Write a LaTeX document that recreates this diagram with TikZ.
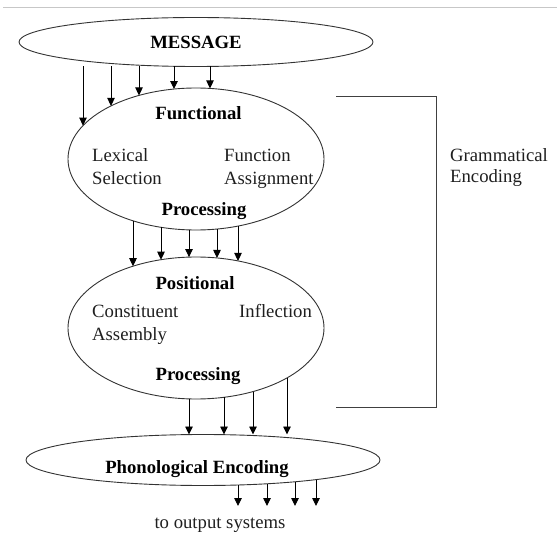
\documentclass[tikz,border=0pt]{standalone}
\usepackage{fontspec}
\setmainfont{Liberation Serif}
\usetikzlibrary{shapes.geometric,arrows.meta}
\begin{document}
\begin{tikzpicture}[x=1pt,y=-1pt,
  oval/.style={ellipse,draw=black!80,line width=0.9pt,inner sep=0pt},
  arr/.style={draw=black,line width=0.9pt,-{Triangle[length=8pt,width=7.5pt]}},
  lbl/.style={inner sep=0pt,text=black!88,font=\fontsize{18.7}{22}\selectfont},
  blbl/.style={inner sep=0pt,text=black,font=\fontsize{18.7}{22}\selectfont\bfseries},
  frame/.style={draw=black!75,line width=0.9pt}]
\useasboundingbox (0,0) rectangle (557,545);
\draw[black!22,line width=1pt] (3,8) -- (557,8);

% ellipses
\node[oval,minimum width=354pt,minimum height=49pt] (msg) at (196,42) {};
\node[oval,minimum width=256pt,minimum height=142pt] (fun) at (196,159) {};
\node[oval,minimum width=256pt,minimum height=142pt] (pos) at (196,328) {};
\node[oval,minimum width=354pt,minimum height=51pt] (pho) at (203,460) {};

% texts
\node[blbl,anchor=base] (tmsg) at (196,49) {MESSAGE};
\node[blbl,anchor=base] (tfun) at (198.5,120) {Functional};
\node[lbl,anchor=base west] (lex1) at (92,162) {Lexical};
\node[lbl,anchor=base west] (lex2) at (92,185) {Selection};
\node[lbl,anchor=base west] (fa1) at (224,162) {Function};
\node[lbl,anchor=base west] (fa2) at (224,185) {Assignment};
\node[blbl,anchor=base] (tproc1) at (204,216) {Processing};
\node[blbl,anchor=base] (tpos) at (195,290) {Positional};
\node[lbl,anchor=base west] (ca1) at (92,318) {Constituent};
\node[lbl,anchor=base west] (ca2) at (92,341) {Assembly};
\node[lbl,anchor=base west] (infl) at (239,318) {Inflection};
\node[blbl,anchor=base] (tproc2) at (198,381) {Processing};
\node[blbl,anchor=base] (tpho) at (197,473) {Phonological Encoding};
\node[lbl,anchor=base] (tout) at (220,528) {to output systems};
\node[lbl,anchor=base west] (ge1) at (450,162) {Grammatical};
\node[lbl,anchor=base west] (ge2) at (450,183) {Encoding};

% bracket
\draw[frame] (336,96) -- (436,96) -- (436,407) -- (336,407);

% MESSAGE -> Functional
\foreach \x/\i in {83/1,111/2,139/3,174/4,210/5}{
  \coordinate (ma\i) at (\x,66.5);
  \coordinate (fa\i) at (\x,{159-71*sqrt(1-((\x-196)/128)^2)});
  \draw[arr] (ma\i) -- (fa\i);
}
% Functional -> Positional
\foreach \x/\i in {133/1,161/2,189/3,217/4,238/5}{
  \coordinate (fb\i) at (\x,{159+71*sqrt(1-((\x-196)/128)^2)});
  \coordinate (pb\i) at (\x,{328-71*sqrt(1-((\x-196)/128)^2)});
  \draw[arr] (fb\i) -- (pb\i);
}
% Positional -> Phonological
\foreach \x/\i in {189/1,224/2,253/3,287/4}{
  \coordinate (pc\i) at (\x,{328+71*sqrt(1-((\x-196)/128)^2)});
  \coordinate (hc\i) at (\x,434.5);
  \draw[arr] (pc\i) -- (hc\i);
}
% Phonological -> output
\foreach \x/\i in {238/1,267/2,295/3,316/4}{
  \coordinate (hd\i) at (\x,{460+25.5*sqrt(1-((\x-203)/177)^2)});
  \coordinate (od\i) at (\x,506);
  \draw[arr] (hd\i) -- (od\i);
}
\end{tikzpicture}
\end{document}
